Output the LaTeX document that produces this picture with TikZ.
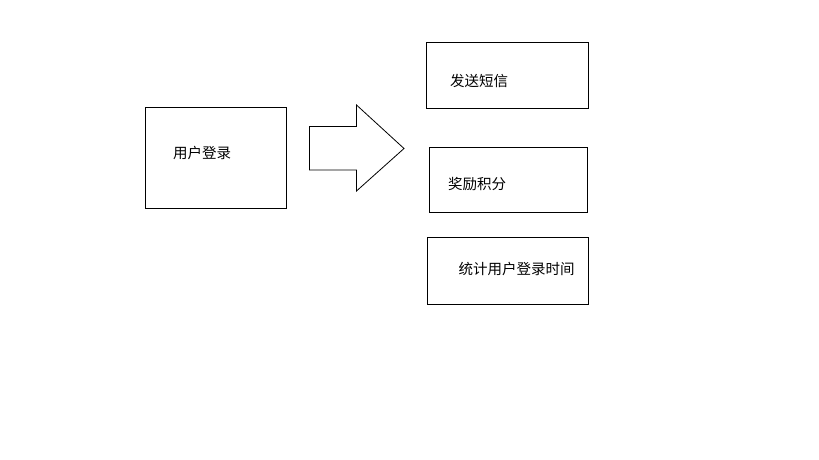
\documentclass[tikz,border=0pt]{standalone}
\usepackage{fontspec}
\newfontfamily\cjk{Noto Sans CJK SC}
\begin{document}
\begin{tikzpicture}[x=1pt,y=-1pt,
  box/.style={draw=black,line width=1pt},
  lbl/.style={font=\cjk\fontsize{14.5pt}{16pt}\selectfont,inner sep=0pt,anchor=center}]
\useasboundingbox[fill=white] (0,0) rectangle (819,460);
\draw[box] (145,107.5) rectangle (286,208);
\node[lbl] (login) at (202,152.5) {用户登录};
\draw[line width=0.8pt] (309.5,126.5) -- (356.5,126.5) -- (356.5,105) -- (404,148.5) -- (356.5,191) -- (356.5,170) -- (309.5,170) -- cycle;
\draw[box] (426.5,42.5) rectangle (588.5,108);
\node[lbl] (sms) at (479,80.5) {发送短信};
\draw[box] (429.5,147.5) rectangle (587.5,212);
\node[lbl] (pts) at (477,184) {奖励积分};
\draw[box] (427.5,237.5) rectangle (588.5,304);
\node[lbl] (stat) at (516.5,268.5) {统计用户登录时间};
\end{tikzpicture}
\end{document}
